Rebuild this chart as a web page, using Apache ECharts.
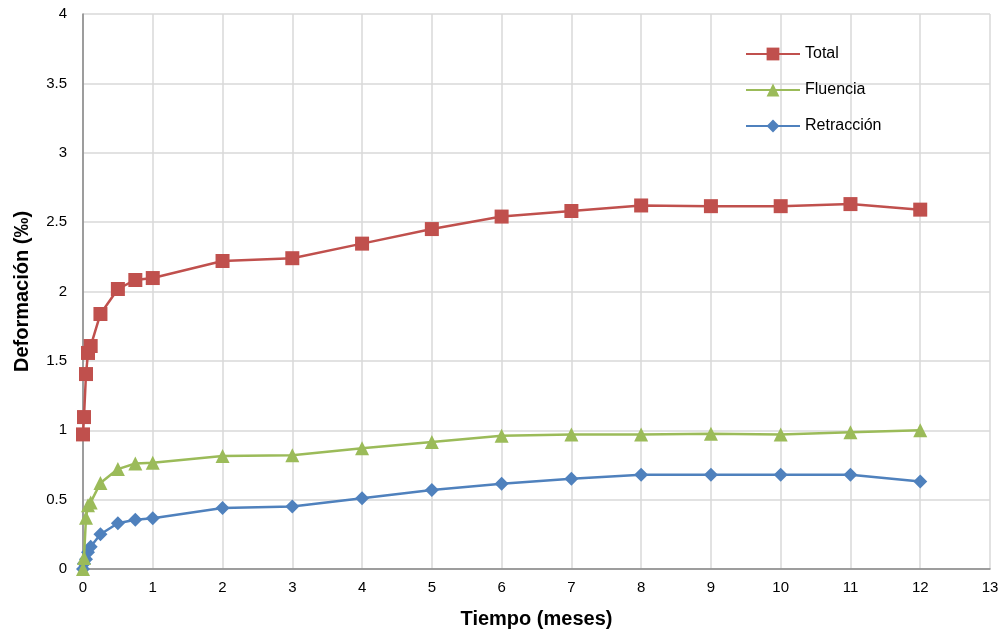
<!DOCTYPE html>
<html><head><meta charset="utf-8">
<script src="https://cdn.jsdelivr.net/npm/echarts@6/dist/echarts.min.js"></script>
<style>html,body{margin:0;padding:0;background:#fff}#c{width:1006px;height:636px}</style>
</head><body><div id="c"></div>
<script>
const tiempo = [0, 0.014, 0.043, 0.072, 0.11, 0.25, 0.5, 0.75, 1, 2, 3, 4, 5, 6, 7, 8, 9, 10, 11, 12];
const total = [0.97, 1.095, 1.405, 1.557, 1.607, 1.838, 2.018, 2.083, 2.097, 2.22, 2.24, 2.345, 2.45, 2.54, 2.58, 2.62, 2.615, 2.615, 2.63, 2.59];
const fluencia = [0, 0.08, 0.37, 0.46, 0.48, 0.62, 0.72, 0.76, 0.765, 0.815, 0.82, 0.87, 0.915, 0.96, 0.97, 0.97, 0.975, 0.97, 0.985, 1.0];
const retraccion = [0, 0.04, 0.07, 0.12, 0.16, 0.25, 0.33, 0.355, 0.365, 0.44, 0.45, 0.51, 0.57, 0.615, 0.65, 0.68, 0.68, 0.68, 0.68, 0.63];
const names = ['Total', 'Fluencia', 'Retracción'];
const colors = ['#C0504D', '#9BBB59', '#4F81BD'];
const symbols = ['rect', 'triangle', 'diamond'];
const sizes = [14, 14, 14];
const values = [total, fluencia, retraccion];

const chart = echarts.init(document.getElementById('c'));
const font = 'Liberation Sans, Arial, sans-serif';
chart.setOption({
  animation: false,
  textStyle: {fontFamily: font},
  grid: {left: 83, right: 16, top: 14, bottom: 67, containLabel: false},
  legend: {
    orient: 'vertical', left: 740, top: 41, itemGap: 20,
    itemWidth: 54, itemHeight: 16,
    textStyle: {fontSize: 16, color: '#000', fontFamily: font},
    data: names
  },
  xAxis: {
    type: 'value', min: 0, max: 13, interval: 1,
    name: 'Tiempo (meses)', nameLocation: 'middle', nameGap: 40,
    nameTextStyle: {fontSize: 20, fontWeight: 'bold', color: '#000', fontFamily: font},
    axisLine: {lineStyle: {color: '#868686', width: 1.5}},
    axisTick: {show: false},
    axisLabel: {fontSize: 15, color: '#000', margin: 11},
    splitLine: {lineStyle: {color: '#d9d9d9', width: 1.5}}
  },
  yAxis: {
    type: 'value', min: 0, max: 4, interval: 0.5,
    name: 'Deformación (‰)', nameLocation: 'middle', nameGap: 51,
    nameTextStyle: {fontSize: 20, fontWeight: 'bold', color: '#000', fontFamily: font},
    axisLine: {show: true, lineStyle: {color: '#868686', width: 1.5}},
    axisTick: {show: false},
    axisLabel: {fontSize: 15, color: '#000', margin: 16},
    splitLine: {lineStyle: {color: '#d9d9d9', width: 1.5}}
  },
  series: names.map((n, i) => ({
    name: n, type: 'line',
    data: tiempo.map((t, j) => [t, values[i][j]]),
    symbol: symbols[i], symbolSize: sizes[i], showAllSymbol: true,
    lineStyle: {color: colors[i], width: 2.5},
    itemStyle: {color: colors[i]},
    z: 3 - i
  }))
});
</script></body></html>
